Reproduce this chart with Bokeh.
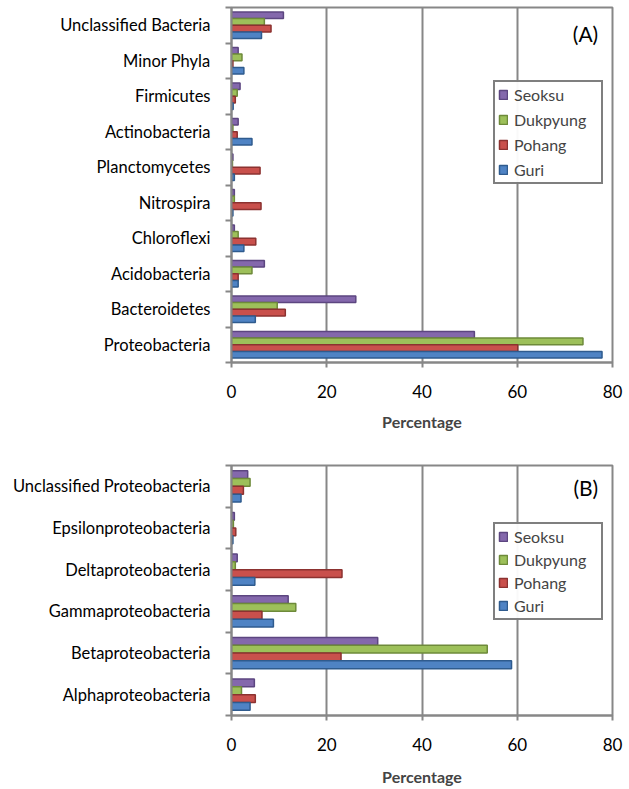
from bokeh.plotting import figure
from bokeh.layouts import column
from bokeh.models import (ColumnDataSource, FixedTicker, Legend, LegendItem, Label)
from bokeh.transform import dodge
from bokeh.embed import file_html
from bokeh.resources import INLINE

# Sites, top to bottom inside each group
sites = ["Seoksu", "Dukpyung", "Pohang", "Guri"]
fill_colors = ["#8468AC", "#9DC05A", "#C9504C", "#4F83C4"]
edge_colors = ["#5C4680", "#6E8A3A", "#8C3230", "#2F5B8E"]

# Panel A: phyla (listed bottom to top)
phyla = ["Proteobacteria", "Bacteroidetes", "Acidobacteria", "Chloroflexi",
         "Nitrospira", "Planctomycetes", "Actinobacteria", "Firmicutes",
         "Minor Phyla", "Unclassified Bacteria"]
phyla_seoksu = [51.0, 26.1, 6.9, 0.6, 0.6, 0.3, 1.4, 1.8, 1.4, 10.9]
phyla_dukpyung = [73.8, 9.6, 4.3, 1.4, 0.6, 0.2, 0.3, 1.2, 2.2, 6.9]
phyla_pohang = [60.1, 11.3, 1.4, 5.1, 6.2, 6.0, 1.2, 0.8, 0.3, 8.3]
phyla_guri = [77.8, 5.0, 1.4, 2.6, 0.3, 0.6, 4.3, 0.35, 2.6, 6.3]

# Panel B: proteobacterial classes (listed bottom to top)
classes = ["Alphaproteobacteria", "Betaproteobacteria", "Gammaproteobacteria",
           "Deltaproteobacteria", "Epsilonproteobacteria",
           "Unclassified Proteobacteria"]
class_seoksu = [4.8, 30.7, 11.9, 1.2, 0.6, 3.4]
class_dukpyung = [2.1, 53.7, 13.5, 0.8, 0.4, 3.9]
class_pohang = [5.0, 23.0, 6.4, 23.2, 0.9, 2.5]
class_guri = [3.9, 58.8, 8.8, 4.9, 0.3, 2.0]

x_ticks = [0, 20, 40, 60, 80]

FONT = "Lato"
GRID = "#878787"
BAR_H = 0.1875


def make_panel(cats, series, tag, height, top, bottom, legend_y, tag_y,
               item_gap, title_gap):
    n = len(cats)
    src = ColumnDataSource(dict(
        pos=list(range(n)),
        Seoksu=series[0], Dukpyung=series[1], Pohang=series[2], Guri=series[3],
    ))
    p = figure(width=629, height=height, x_range=(0, 80), y_range=(-0.5, n - 0.5),
               output_backend="svg", toolbar_location=None,
               min_border_left=231, min_border_right=17,
               min_border_top=top, min_border_bottom=bottom)

    renderers = []
    offsets = [1.5 * BAR_H, 0.5 * BAR_H, -0.5 * BAR_H, -1.5 * BAR_H]
    for site, off, fc, ec in zip(sites, offsets, fill_colors, edge_colors):
        r = p.hbar(y=dodge("pos", off), left=0, right=site, height=BAR_H,
                   source=src, fill_color=fc, line_color=ec, line_width=1.5)
        renderers.append(r)

    # axes
    p.xaxis.ticker = FixedTicker(ticks=x_ticks)
    p.xaxis.axis_label = "Percentage"
    p.xaxis.axis_label_text_font = FONT
    p.xaxis.axis_label_text_font_style = "bold"
    p.xaxis.axis_label_text_font_size = "16px"
    p.xaxis.axis_label_standoff = title_gap
    p.xaxis.major_label_text_font = FONT
    p.xaxis.major_label_text_font_size = "17px"
    p.xaxis.major_label_text_color = "black"
    p.xaxis.major_label_standoff = 17
    p.xaxis.major_tick_out = 5
    p.xaxis.major_tick_in = 0
    p.xaxis.minor_tick_line_color = None
    p.xaxis.major_tick_line_color = GRID
    p.xaxis.major_tick_line_width = 2
    p.xaxis.axis_line_color = GRID
    p.xaxis.axis_line_width = 2

    p.yaxis.ticker = FixedTicker(ticks=list(range(n)),
                                 minor_ticks=[i - 0.5 for i in range(n + 1)])
    p.yaxis.major_label_overrides = {i: c for i, c in enumerate(cats)}
    p.yaxis.major_label_text_font = FONT
    p.yaxis.major_label_text_font_size = "16.5px"
    p.yaxis.major_label_text_color = "black"
    p.yaxis.major_label_standoff = 15
    p.yaxis.major_tick_line_color = None
    p.yaxis.minor_tick_out = 6
    p.yaxis.minor_tick_in = 0
    p.yaxis.minor_tick_line_color = GRID
    p.yaxis.minor_tick_line_width = 2
    p.yaxis.axis_line_color = GRID
    p.yaxis.axis_line_width = 2

    p.xgrid.grid_line_color = GRID
    p.xgrid.grid_line_width = 2
    p.ygrid.grid_line_color = None
    p.outline_line_color = GRID
    p.outline_line_width = 2
    p.outline_line_alpha = 1.0
    p.background_fill_color = "white"
    p.border_fill_color = "white"

    items = [LegendItem(label=s, renderers=[r]) for s, r in zip(sites, renderers)]
    legend = Legend(items=items, location=(262, legend_y),
                    border_line_color="black", border_line_width=2,
                    label_text_font=FONT, label_text_font_size="16px",
                    glyph_width=10, glyph_height=11, label_standoff=6,
                    label_width=84, label_height=16, spacing=item_gap,
                    padding=3, margin=0)
    p.add_layout(legend, "center")

    p.add_layout(Label(x=77, y=tag_y, text=tag, text_align="right",
                       text_baseline="middle", text_font=FONT,
                       text_font_size="21px", text_color="black"))
    return p


pa = make_panel(phyla, [phyla_seoksu, phyla_dukpyung, phyla_pohang, phyla_guri],
                "(A)", 440, 7, 78, 178, 8.77, 6, 11)
pb = make_panel(classes, [class_seoksu, class_dukpyung, class_pohang, class_guri],
                "(B)", 349, 25, 74, 95, 4.97, 4, 13)

layout = column(pa, pb, spacing=0)
open("out.html", "w").write(file_html(layout, INLINE))
